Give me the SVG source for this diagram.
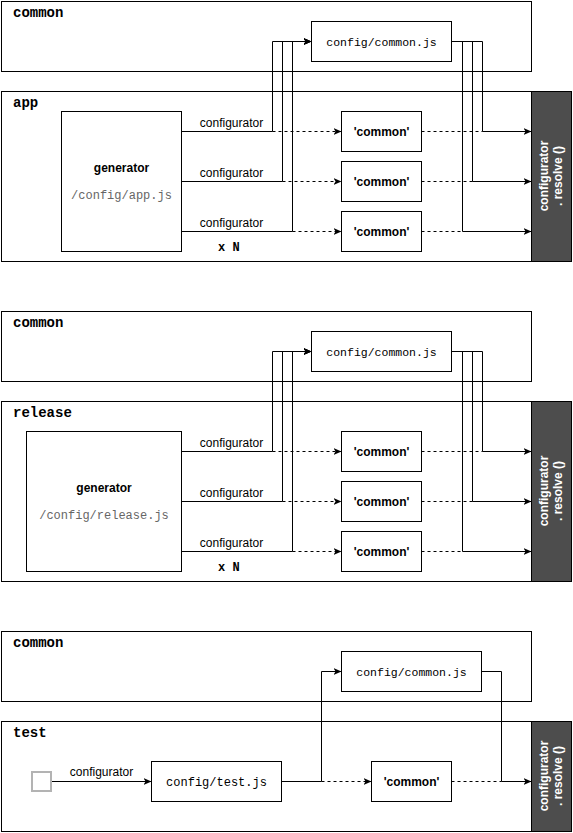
<svg xmlns="http://www.w3.org/2000/svg" width="573" height="833" viewBox="0 0 573 833">
<defs>
<marker id="arr" viewBox="0 0 10 10" refX="10" refY="5" markerWidth="8" markerHeight="8" markerUnits="userSpaceOnUse" orient="auto">
<path d="M0,0.8 L10,5 L0,9.2 L2.6,5 Z" fill="#000"/>
</marker>
<style>
.box{fill:#fff;stroke:#000;stroke-width:1}
.bar{fill:#4d4d4d;stroke:#000;stroke-width:1}
.title{font-family:"Liberation Mono","Courier New",monospace;font-weight:bold;font-size:14px;fill:#000}
.mono{font-family:"Liberation Mono","Courier New",monospace;font-size:11.5px;fill:#000}
.gray{font-family:"Liberation Mono","Courier New",monospace;font-size:12px;fill:#666}
.bold{font-family:"Liberation Sans",Arial,sans-serif;font-weight:bold;font-size:12px;fill:#000}
.lbl{font-family:"Liberation Sans",Arial,sans-serif;font-size:12px;fill:#000}
.bartext{font-family:"Liberation Sans",Arial,sans-serif;font-weight:bold;font-size:12px;fill:#fff}
.xn{font-family:"Liberation Mono","Courier New",monospace;font-weight:bold;font-size:12px;fill:#000}
.e{fill:none;stroke:#000;stroke-width:1}
.d{fill:none;stroke:#000;stroke-width:1;stroke-dasharray:3 3}
</style>
</defs>

<!-- Section 1 -->
<g id="common1"><rect class="box" x="1.5" y="1.5" width="530" height="70"/><text class="title" x="13" y="17">common</text></g>
<g id="app"><rect class="box" x="1.5" y="91.5" width="530" height="170"/><text class="title" x="13" y="107">app</text></g>
<g id="resolve1"><rect class="bar" x="531.5" y="91.5" width="40" height="170"/>
<text class="bartext" text-anchor="middle" transform="translate(552,176) rotate(-90)"><tspan x="0" y="-4">configurator</tspan><tspan x="0" y="10">. resolve ()</tspan></text></g>
<g id="cfgcommon1"><rect class="box" x="311.5" y="21.5" width="140" height="40"/><text class="mono" x="381.5" y="45.5" text-anchor="middle">config/common.js</text></g>
<g id="gen1"><rect class="box" x="61.5" y="111.5" width="120" height="140"/><text class="bold" x="121.5" y="172" text-anchor="middle">generator</text><text class="gray" x="121.5" y="199" text-anchor="middle">/config/app.js</text></g>
<g id="c1a"><rect class="box" x="341.5" y="111.5" width="80" height="40"/><text class="bold" x="381.5" y="136" text-anchor="middle">'common'</text></g>
<g id="c1b"><rect class="box" x="341.5" y="161.5" width="80" height="40"/><text class="bold" x="381.5" y="186" text-anchor="middle">'common'</text></g>
<g id="c1c"><rect class="box" x="341.5" y="211.5" width="80" height="40"/><text class="bold" x="381.5" y="236" text-anchor="middle">'common'</text></g>
<text id="xn1" class="xn" x="218" y="251">x N</text>

<!-- Section 2 -->
<g id="common2"><rect class="box" x="1.5" y="311.5" width="530" height="70"/><text class="title" x="13" y="327">common</text></g>
<g id="release"><rect class="box" x="1.5" y="401.5" width="530" height="180"/><text class="title" x="13" y="417">release</text></g>
<g id="resolve2"><rect class="bar" x="531.5" y="401.5" width="40" height="180"/>
<text class="bartext" text-anchor="middle" transform="translate(552,491) rotate(-90)"><tspan x="0" y="-4">configurator</tspan><tspan x="0" y="10">. resolve ()</tspan></text></g>
<g id="cfgcommon2"><rect class="box" x="311.5" y="331.5" width="140" height="40"/><text class="mono" x="381.5" y="355.5" text-anchor="middle">config/common.js</text></g>
<g id="gen2"><rect class="box" x="26.5" y="431.5" width="155" height="140"/><text class="bold" x="104" y="492" text-anchor="middle">generator</text><text class="gray" x="104" y="519" text-anchor="middle">/config/release.js</text></g>
<g id="c2a"><rect class="box" x="341.5" y="431.5" width="80" height="40"/><text class="bold" x="381.5" y="456" text-anchor="middle">'common'</text></g>
<g id="c2b"><rect class="box" x="341.5" y="481.5" width="80" height="40"/><text class="bold" x="381.5" y="506" text-anchor="middle">'common'</text></g>
<g id="c2c"><rect class="box" x="341.5" y="531.5" width="80" height="40"/><text class="bold" x="381.5" y="556" text-anchor="middle">'common'</text></g>
<text id="xn2" class="xn" x="218" y="571">x N</text>

<!-- Section 3 -->
<g id="common3"><rect class="box" x="1.5" y="631.5" width="530" height="70"/><text class="title" x="13" y="647">common</text></g>
<g id="test"><rect class="box" x="1.5" y="721.5" width="530" height="110"/><text class="title" x="13" y="737">test</text></g>
<g id="resolve3"><rect class="bar" x="531.5" y="721.5" width="40" height="110"/>
<text class="bartext" text-anchor="middle" transform="translate(552,776) rotate(-90)"><tspan x="0" y="-4">configurator</tspan><tspan x="0" y="10">. resolve ()</tspan></text></g>
<g id="cfgcommon3"><rect class="box" x="341.5" y="651.5" width="140" height="40"/><text class="mono" x="411.5" y="675.5" text-anchor="middle">config/common.js</text></g>
<g id="start"><rect x="32" y="772" width="19" height="19" fill="#fff" stroke="#b3b3b3" stroke-width="2"/></g>
<g id="cfgtest"><rect class="box" x="151.5" y="761.5" width="130" height="40"/><text class="mono" x="216.5" y="785.5" text-anchor="middle" style="font-size:12px">config/test.js</text></g>
<g id="c3"><rect class="box" x="371.5" y="761.5" width="80" height="40"/><text class="bold" x="411.5" y="786" text-anchor="middle">'common'</text></g>

<g id="connectors">
<!-- section 1 -->
<path class="d" d="M272.5,131.5 H341.5" marker-end="url(#arr)"/>
<path class="d" d="M282.5,181.5 H341.5" marker-end="url(#arr)"/>
<path class="d" d="M292.5,231.5 H341.5" marker-end="url(#arr)"/>
<path class="d" d="M421.5,131.5 H482.5"/>
<path class="d" d="M421.5,181.5 H472.5"/>
<path class="d" d="M421.5,231.5 H462.5"/>
<path class="e" d="M181.5,131.5 H272.5 V41.5 H311.5" marker-end="url(#arr)"/>
<path class="e" d="M181.5,181.5 H282.5 V41.5 H311.5" marker-end="url(#arr)"/>
<path class="e" d="M181.5,231.5 H292.5 V41.5 H311.5" marker-end="url(#arr)"/>
<path class="e" d="M451.5,41.5 H482.5 V131.5 H531.5" marker-end="url(#arr)"/>
<path class="e" d="M451.5,41.5 H472.5 V181.5 H531.5" marker-end="url(#arr)"/>
<path class="e" d="M451.5,41.5 H462.5 V231.5 H531.5" marker-end="url(#arr)"/>
<text class="lbl" x="231.5" y="127" text-anchor="middle">configurator</text>
<text class="lbl" x="231.5" y="177" text-anchor="middle">configurator</text>
<text class="lbl" x="231.5" y="227" text-anchor="middle">configurator</text>
<!-- section 2 -->
<path class="d" d="M272.5,451.5 H341.5" marker-end="url(#arr)"/>
<path class="d" d="M282.5,501.5 H341.5" marker-end="url(#arr)"/>
<path class="d" d="M292.5,551.5 H341.5" marker-end="url(#arr)"/>
<path class="d" d="M421.5,451.5 H482.5"/>
<path class="d" d="M421.5,501.5 H472.5"/>
<path class="d" d="M421.5,551.5 H462.5"/>
<path class="e" d="M181.5,451.5 H272.5 V351.5 H311.5" marker-end="url(#arr)"/>
<path class="e" d="M181.5,501.5 H282.5 V351.5 H311.5" marker-end="url(#arr)"/>
<path class="e" d="M181.5,551.5 H292.5 V351.5 H311.5" marker-end="url(#arr)"/>
<path class="e" d="M451.5,351.5 H482.5 V451.5 H531.5" marker-end="url(#arr)"/>
<path class="e" d="M451.5,351.5 H472.5 V501.5 H531.5" marker-end="url(#arr)"/>
<path class="e" d="M451.5,351.5 H462.5 V551.5 H531.5" marker-end="url(#arr)"/>
<text class="lbl" x="231.5" y="447" text-anchor="middle">configurator</text>
<text class="lbl" x="231.5" y="497" text-anchor="middle">configurator</text>
<text class="lbl" x="231.5" y="547" text-anchor="middle">configurator</text>
<!-- section 3 -->
<path class="e" d="M52,781.5 H151.5" marker-end="url(#arr)"/>
<text class="lbl" x="101.5" y="776" text-anchor="middle">configurator</text>
<path class="d" d="M321.5,781.5 H371.5" marker-end="url(#arr)"/>
<path class="d" d="M451.5,781.5 H501.5"/>
<path class="e" d="M281.5,781.5 H321.5 V671.5 H341.5" marker-end="url(#arr)"/>
<path class="e" d="M481.5,671.5 H501.5 V781.5 H531.5" marker-end="url(#arr)"/>
</g>
</svg>
